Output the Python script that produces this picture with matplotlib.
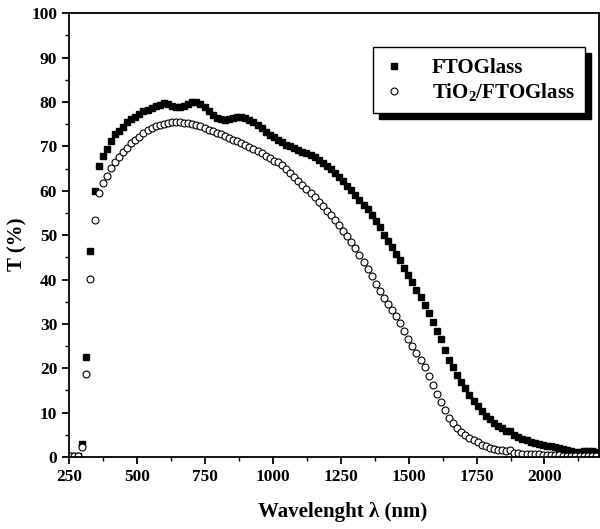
import numpy as np
import matplotlib
matplotlib.use("Agg")
import matplotlib.pyplot as plt
from matplotlib.patches import Rectangle
from matplotlib.transforms import IdentityTransform
from matplotlib.ticker import MultipleLocator

plt.rcParams["font.family"] = ["Liberation Serif", "DejaVu Serif"]
plt.rcParams["font.weight"] = "bold"
plt.rcParams["mathtext.fontset"] = "custom"
plt.rcParams["mathtext.rm"] = "Liberation Serif:bold"
plt.rcParams["mathtext.it"] = "Liberation Serif:bold"
plt.rcParams["mathtext.bf"] = "Liberation Serif:bold"

# wavelength sampling grid (nm), one point every 15 nm
wl = np.arange(254, 2200, 15)

# FTO glass transmittance (%)
t_fto = [
    0.3, 0.3, 0.3, 3.0, 22.5, 46.5, 60.0, 65.5, 67.9, 69.5,
    71.3, 72.7, 73.4, 74.3, 75.5, 76.2, 76.7, 77.3, 77.9, 78.2,
    78.7, 79.0, 79.4, 79.7, 79.6, 79.2, 78.9, 78.8, 79.1, 79.6,
    79.9, 80.0, 79.6, 78.9, 77.9, 77.0, 76.4, 76.1, 76.0, 76.2,
    76.5, 76.7, 76.7, 76.5, 76.0, 75.4, 74.8, 74.1, 73.3, 72.6,
    72.0, 71.4, 70.9, 70.4, 70.0, 69.6, 69.2, 68.8, 68.4, 68.0,
    67.5, 66.9, 66.3, 65.6, 64.8, 64.0, 63.1, 62.1, 61.1, 60.1,
    59.1, 58.0, 56.9, 55.9, 54.6, 53.2, 51.8, 50.0, 48.6, 47.3,
    45.8, 44.3, 42.5, 41.0, 39.5, 37.7, 36.0, 34.2, 32.4, 30.5,
    28.5, 26.6, 24.2, 21.9, 20.4, 18.6, 16.9, 15.5, 13.9, 12.7,
    11.5, 10.3, 9.3, 8.5, 7.7, 7.0, 6.5, 5.9, 5.9, 5.0,
    4.5, 4.1, 3.8, 3.5, 3.2, 3.0, 2.8, 2.6, 2.4, 2.3,
    2.1, 1.8, 1.5, 1.3, 1.2, 1.2, 1.3, 1.3, 1.3, 1.2,
]

# TiO2 / FTO glass transmittance (%)
t_tio2 = [
    0.3, 0.3, 0.3, 2.3, 18.8, 40.2, 53.5, 59.5, 61.8, 63.4,
    65.2, 66.4, 67.6, 68.7, 69.7, 70.7, 71.5, 72.2, 73.0, 73.6,
    74.1, 74.5, 74.8, 75.1, 75.3, 75.4, 75.4, 75.4, 75.3, 75.2,
    75.0, 74.8, 74.5, 74.2, 73.8, 73.4, 73.0, 72.7, 72.3, 71.9,
    71.5, 71.2, 70.7, 70.3, 69.9, 69.4, 68.9, 68.4, 67.9, 67.4,
    66.8, 66.4, 65.7, 64.9, 64.1, 63.2, 62.3, 61.4, 60.5, 59.5,
    58.5, 57.5, 56.5, 55.5, 54.5, 53.4, 52.2, 51.0, 49.7, 48.4,
    47.0, 45.5, 44.0, 42.4, 40.8, 39.1, 37.4, 35.8, 34.4, 33.1,
    31.7, 30.1, 28.4, 26.7, 25.0, 23.4, 21.8, 20.3, 18.3, 16.3,
    14.3, 12.4, 10.7, 8.8, 7.6, 6.6, 5.7, 5.0, 4.3, 3.8,
    3.3, 2.8, 2.4, 2.1, 1.8, 1.6, 1.5, 1.3, 1.6, 1.0,
    0.9, 0.8, 0.7, 0.7, 0.6, 0.6, 0.5, 0.5, 0.4, 0.4,
    0.4, 0.3, 0.3, 0.3, 0.3, 0.3, 0.2, 0.2, 0.2, 0.2,
]

fig = plt.figure(figsize=(6.0, 5.29), dpi=100)
ax = fig.add_axes([0.115, 0.136, 0.883, 0.839])

ax.plot(wl, t_fto, "s", color="black", markersize=4.3, label="FTOGlass")
ax.plot(wl, t_tio2, "o", markerfacecolor="white", markeredgecolor="black",
        markeredgewidth=0.8, markersize=5.0, label="TiO$_2$/FTOGlass")

ax.set_xlim(250, 2200)
ax.set_ylim(0, 100)
ax.set_xticks([250, 500, 750, 1000, 1250, 1500, 1750, 2000])
ax.xaxis.set_minor_locator(MultipleLocator(125))
ax.yaxis.set_major_locator(MultipleLocator(10))
ax.yaxis.set_minor_locator(MultipleLocator(5))
ax.tick_params(which="major", direction="out", length=5, width=1.3, labelsize=12.5)
ax.tick_params(which="minor", direction="out", length=3, width=1.0)
ax.tick_params(top=False, right=False)
for lab in ax.get_xticklabels() + ax.get_yticklabels():
    lab.set_fontweight("bold")
for sp in ax.spines.values():
    sp.set_linewidth(1.3)

ax.set_xlabel("Wavelenght \u03bb (nm)", fontsize=15, fontweight="bold")
ax.xaxis.set_label_coords(0.517, -0.102)
ax.set_ylabel("T (%)", fontsize=15, fontweight="bold")
ax.yaxis.set_label_coords(-0.078, 0.48)

leg = ax.legend(loc="upper right", bbox_to_anchor=(0.974, 0.923), frameon=True,
                fancybox=False, framealpha=1.0, fontsize=15, handletextpad=1.3,
                borderpad=0.5, labelspacing=0.15, borderaxespad=0.0,
                handlelength=1.0)
leg.get_frame().set_edgecolor("black")
leg.get_frame().set_facecolor("white")
leg.get_frame().set_linewidth(1.0)
leg.set_zorder(5)

# black drop shadow behind legend box
fig.canvas.draw()
bb = leg.get_window_extent()
shadow = Rectangle((bb.x0 + 6, bb.y0 - 6), bb.width, bb.height,
                   transform=IdentityTransform(), facecolor="black",
                   edgecolor="black", zorder=4, clip_on=False)
ax.add_artist(shadow)

fig.savefig("out.png", dpi=100)
